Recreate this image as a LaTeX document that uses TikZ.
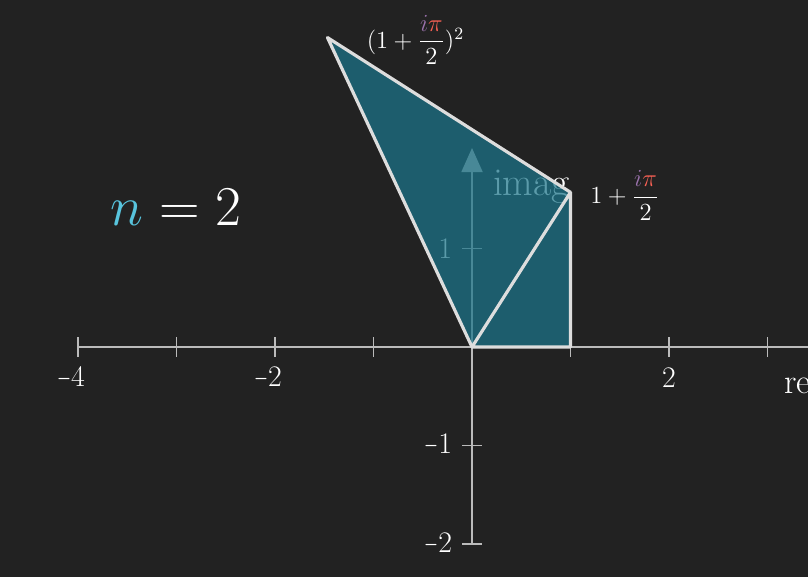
\RequirePackage{fix-cm}
\documentclass[tikz,border=0pt]{standalone}
\usepackage{amsmath}
\usepackage{graphicx}
\usetikzlibrary{arrows.meta}
\definecolor{bgdark}{HTML}{222222}
\definecolor{axisgray}{HTML}{BBBBBB}
\definecolor{edgewhite}{HTML}{DDDDDD}
\definecolor{regionblue}{HTML}{1C758A}
\definecolor{nblue}{HTML}{58C4DD}
\definecolor{ipurple}{HTML}{9A72AC}
\definecolor{pired}{HTML}{FC6255}
\newcommand{\shortminus}{\scalebox{0.6}[1]{$-$}}
\newcommand{\ipihalf}{\dfrac{\textcolor{ipurple}{i}\textcolor{pired}{\pi}}{2}}

\begin{document}
\begin{tikzpicture}[x=1.97cm,y=1.97cm,>=Latex,font=\normalsize]
  \tikzset{
    axisline/.style={axisgray,line width=1.1pt},
    ticklabel/.style={white,font=\fontsize{17}{20}\selectfont,inner sep=0pt},
    vertexlabel/.style={white,anchor=west,inner sep=0pt,font=\fontsize{14}{17}\selectfont},
    edgeline/.style={edgewhite,line width=1.8pt,line join=round},
  }
  \def\Xmin{-4}
  \def\Xmax{3.6}
  \def\Ymin{-2}
  \def\Ymax{2.02}
  \def\tk{0.1}

  % background and frame
  \useasboundingbox[fill=bgdark] (-4.792,-2.335) rectangle (3.411,3.523);

  % ================= axes =================
  \coordinate (xl) at (\Xmin,0);
  \coordinate (xr) at (\Xmax,0);
  \coordinate (yb) at (0,\Ymin);
  \coordinate (yt) at (0,\Ymax);
  \draw[axisline] (xl) -- (xr);
  \draw[axisline,-{Triangle[length=0.48cm,width=0.42cm]}] (yb) -- (yt);
  \foreach \x in {-4,-3,-2,-1,1,2,3}
    \draw[axisline] (\x,-\tk) -- (\x,\tk);
  \foreach \y in {-2,-1,1}
    \draw[axisline] (-\tk,\y) -- (\tk,\y);

  % tick labels
  \node[ticklabel] (xm4) at (-4,-0.315) {$\makebox[0pt][r]{\shortminus}4$};
  \node[ticklabel] (xm2) at (-2,-0.315) {$\makebox[0pt][r]{\shortminus}2$};
  \node[ticklabel] (xp2) at (2,-0.315) {$2$};
  \node[ticklabel,anchor=east] (yp1) at (-0.2,1) {$1$};
  \node[ticklabel,anchor=east] (ym1) at (-0.2,-1) {$\shortminus 1$};
  \node[ticklabel,anchor=east] (ym2) at (-0.2,-2) {$\shortminus 2$};

  % axis names
  \node[white,anchor=base west,inner sep=0pt,font=\fontsize{22.5}{27}\selectfont]
    (imag) at (0.21,1.543) {imag};
  \node[white,anchor=base west,inner sep=0pt,font=\fontsize{20}{24}\selectfont]
    (re) at (3.168,-0.467) {re};

  % ============ region: 0, 1, 1+i pi/2, (1+i pi/2)^2 ============
  \coordinate (O) at (0,0);
  \coordinate (A) at (1,0);
  \coordinate (B) at (1,{pi/2});
  \coordinate (C) at ({1-pi*pi/4},{pi});
  \fill[regionblue,fill opacity=0.72] (O) -- (A) -- (B) -- (C) -- cycle;
  \draw[edgeline] (O) -- (A) -- (B) -- cycle;
  \draw[edgeline] (O) -- (C) -- (B);

  % vertex labels
  \node[vertexlabel] (lC) at ([xshift=0.78cm,yshift=-0.05cm]C) {$(1+\ipihalf)^{2}$};
  \node[vertexlabel] (lB) at ([xshift=0.39cm,yshift=-0.06cm]B) {$1+\ipihalf$};

  % exponent
  \node[white,font=\fontsize{32}{38}\selectfont] (nlabel) at (-3.005,1.421)
    {$\textcolor{nblue}{n}=2$};
\end{tikzpicture}
\end{document}
